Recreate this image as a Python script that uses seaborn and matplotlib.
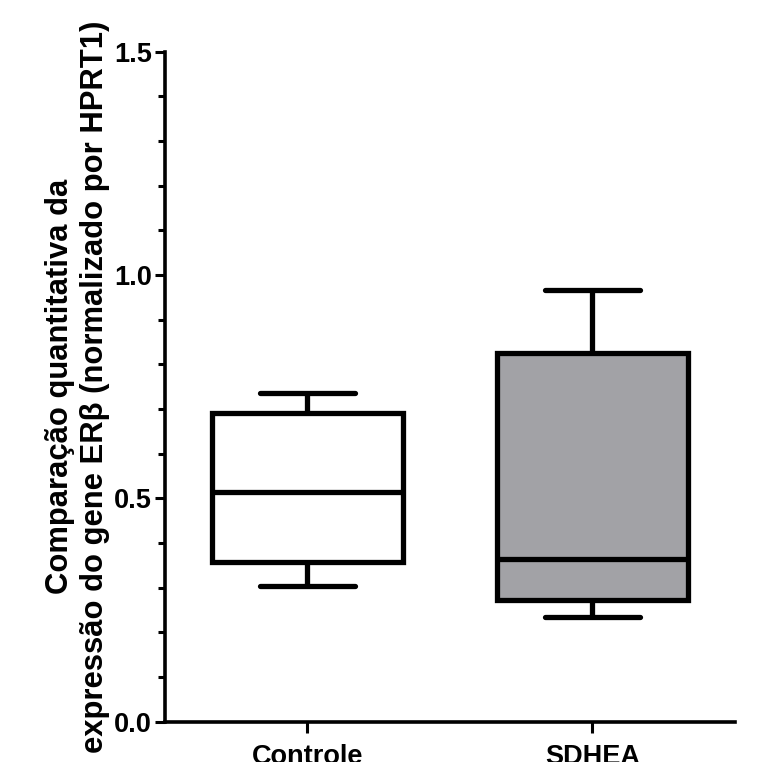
import matplotlib
matplotlib.use("Agg")
import matplotlib.pyplot as plt
import pandas as pd
import seaborn as sns
from matplotlib.ticker import MultipleLocator

# 组别
GROUPS = ["Controle", "SDHEA"]
# 每组五数概括: 最小值, Q1, 中位数, Q3, 最大值
controle_values = [0.304, 0.357, 0.514, 0.691, 0.736]
sdhea_values = [0.234, 0.272, 0.364, 0.825, 0.967]

Y_TICKS = [0.0, 0.5, 1.0, 1.5]
Y_LABEL = "Comparação quantitativa da\nexpressão do gene ERβ (normalizado por HPRT1)"
BOX_COLORS = ["#ffffff", "#a2a2a6"]

df = pd.DataFrame({
    "grupo": [GROUPS[0]] * len(controle_values) + [GROUPS[1]] * len(sdhea_values),
    "valor": controle_values + sdhea_values,
})

# 设置绘图风格
sns.set_theme(style="ticks")
plt.rcParams["font.family"] = ["Liberation Sans", "DejaVu Sans"]

fig = plt.figure(figsize=(7.65, 7.62), dpi=100)
ax = fig.add_axes([0.2157, 0.0529, 0.745, 0.8793])

sns.boxplot(
    data=df,
    x="grupo",
    y="valor",
    hue="grupo",
    order=GROUPS,
    hue_order=GROUPS,
    palette=BOX_COLORS,
    saturation=1,
    whis=(0, 100),
    width=0.67,
    linewidth=3.8,
    linecolor="black",
    showfliers=False,
    legend=False,
    ax=ax,
)

# 坐标轴范围与刻度
ax.set_ylim(Y_TICKS[0], Y_TICKS[-1])
ax.set_xlim(-0.5, 1.5)
ax.set_yticks(Y_TICKS)
ax.yaxis.set_minor_locator(MultipleLocator(0.1))
ax.set_yticklabels([f"{t:.1f}" for t in Y_TICKS])

for side in ["top", "right"]:
    ax.spines[side].set_visible(False)
for side in ["left", "bottom"]:
    ax.spines[side].set_linewidth(2.6)
    ax.spines[side].set_color("black")

ax.tick_params(axis="y", which="major", length=7.5, width=2.2, pad=2,
               labelsize=19.5, colors="black")
ax.tick_params(axis="y", which="minor", length=5, width=2.2, colors="black")
ax.tick_params(axis="x", which="major", length=8, width=2.2, pad=8,
               labelsize=19.5, colors="black")
for lab in ax.get_xticklabels() + ax.get_yticklabels():
    lab.set_fontweight("bold")

# 标签
ax.set_xlabel("")
ax.set_ylabel(Y_LABEL, fontsize=22.3, fontweight="bold", labelpad=3, color="black")

fig.savefig("out.png", dpi=100)
plt.close(fig)
